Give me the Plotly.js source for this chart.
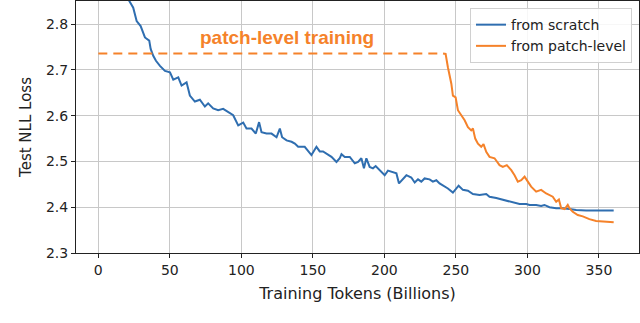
<!DOCTYPE html>
<html>
<head>
<meta charset="utf-8">
<script src="https://cdn.plot.ly/plotly-3.0.1.min.js"></script>
<style>
  html, body { margin: 0; padding: 0; background: #ffffff; }
  #chart { width: 640px; height: 323px; }
</style>
</head>
<body>
<div id="chart"></div>
<script>
// Test NLL loss vs training tokens (billions)
const scratchX = [19.3, 21.6, 24.4, 26.8, 29.6, 32.6, 35.6, 36.6, 38.4, 40.3, 43.1, 46.6, 50.1, 52.4, 55.9, 58.2, 61.7, 64.0, 67.5, 71.0,
  74.5, 76.8, 80.3, 83.8, 87.3, 90.8, 94.3, 97.8, 101.3, 103.6, 107.1, 110.1, 112.4, 114.1, 117.6, 121.1, 124.6, 126.9, 128.5, 131.6,
  135.1, 137.4, 139.7, 144.3, 149.0, 152.5, 154.8, 157.1, 159.5, 163.0, 166.5, 168.8, 170.0, 172.3, 175.8, 179.3, 181.6, 183.9, 185.7, 187.4,
  189.7, 192.0, 193.9, 196.7, 200.2, 202.5, 206.0, 208.4, 210.2, 212.6, 215.4, 218.8, 221.2, 223.5, 225.8, 228.1, 231.6, 233.9, 236.3, 238.6,
  240.9, 244.4, 247.9, 251.9, 254.9, 258.4, 261.9, 266.5, 271.2, 273.5, 278.2, 282.8, 286.3, 291.0, 294.5, 299.2, 301.5, 306.1, 309.6, 311.9,
  315.4, 320.1, 324.7, 329.4, 334.1, 341.0, 350.3, 360.3];
const scratchY = [2.872, 2.851, 2.836, 2.807, 2.796, 2.771, 2.764, 2.746, 2.731, 2.720, 2.709, 2.698, 2.695, 2.679, 2.684, 2.666, 2.673, 2.644, 2.631, 2.635,
  2.620, 2.627, 2.616, 2.612, 2.615, 2.608, 2.601, 2.579, 2.585, 2.572, 2.572, 2.561, 2.586, 2.564, 2.561, 2.561, 2.553, 2.572, 2.553, 2.546,
  2.543, 2.539, 2.532, 2.532, 2.514, 2.532, 2.522, 2.522, 2.517, 2.510, 2.499, 2.507, 2.516, 2.510, 2.510, 2.496, 2.499, 2.507, 2.485, 2.507,
  2.488, 2.485, 2.490, 2.481, 2.470, 2.480, 2.477, 2.474, 2.452, 2.461, 2.470, 2.465, 2.454, 2.461, 2.456, 2.463, 2.461, 2.456, 2.459, 2.452,
  2.448, 2.441, 2.432, 2.447, 2.438, 2.436, 2.429, 2.427, 2.429, 2.423, 2.420, 2.416, 2.414, 2.410, 2.407, 2.407, 2.405, 2.405, 2.403, 2.405,
  2.400, 2.398, 2.398, 2.396, 2.394, 2.393, 2.393, 2.393];

const patchX = [0, 241];
const patchY = [2.736, 2.736];

const fromPatchX = [241, 242.8, 244.4, 246.8, 247.9, 249.8, 251.4, 253.8, 256.1, 258.4, 260.7, 261.9, 263.5, 265.4, 267.7, 269.3, 271.2, 273.5, 277.0, 280.5,
  282.8, 285.6, 288.7, 291.0, 293.3, 295.7, 298.0, 300.3, 302.6, 306.1, 309.6, 313.1, 317.7, 320.1, 322.0, 323.6, 326.0, 328.2, 329.4, 331.7,
  335.2, 338.7, 343.3, 348.0, 353.8, 360.3];
const fromPatchY = [2.736, 2.735, 2.706, 2.670, 2.644, 2.640, 2.612, 2.601, 2.590, 2.575, 2.568, 2.572, 2.550, 2.539, 2.532, 2.538, 2.521, 2.510, 2.507, 2.492,
  2.488, 2.492, 2.481, 2.470, 2.456, 2.459, 2.467, 2.456, 2.445, 2.434, 2.438, 2.430, 2.423, 2.412, 2.417, 2.398, 2.396, 2.405, 2.398, 2.390,
  2.383, 2.380, 2.374, 2.370, 2.369, 2.367];

const xTicks = [0, 50, 100, 150, 200, 250, 300, 350];
const yTicks = [2.3, 2.4, 2.5, 2.6, 2.7, 2.8];

const blue = '#2f6eb0';
const orange = '#f5822a';
const font = 'DejaVu Sans, sans-serif';

const traces = [
  {
    x: scratchX, y: scratchY,
    type: 'scatter', mode: 'lines', name: 'from scratch',
    line: { color: blue, width: 2 }
  },
  {
    x: fromPatchX, y: fromPatchY,
    type: 'scatter', mode: 'lines', name: 'from patch-level',
    line: { color: orange, width: 2 }
  },
  {
    x: patchX, y: patchY,
    type: 'scatter', mode: 'lines', showlegend: false,
    line: { color: orange, width: 2, dash: '9px,6px' }
  }
];

const axisCommon = {
  showline: true, linecolor: '#222222', linewidth: 1, mirror: true,
  ticks: 'outside', ticklen: 4, tickcolor: '#222222',
  showgrid: true, gridcolor: '#c8c8c8', gridwidth: 1,
  zeroline: false,
  tickfont: { family: font, size: 14, color: '#222222' }
};

const layout = {
  width: 640, height: 323,
  margin: { l: 76, r: 1, t: 1, b: 70 },
  paper_bgcolor: '#ffffff', plot_bgcolor: '#ffffff',
  font: { family: font, color: '#222222' },
  showlegend: true,
  xaxis: Object.assign({}, axisCommon, {
    range: [-15.6, 378],
    tickvals: xTicks,
    title: { text: 'Training Tokens (Billions)', font: { family: font, size: 16 }, standoff: 11 }
  }),
  yaxis: Object.assign({}, axisCommon, {
    range: [2.3, 2.8507],
    tickvals: yTicks,
    ticktext: yTicks.map(v => v.toFixed(1)),
    title: { text: 'Test NLL Loss', font: { family: font, size: 15 }, standoff: 10 }
  }),
  legend: {
    x: 0.9876, y: 0.972, xanchor: 'right', yanchor: 'top',
    bgcolor: 'rgba(255,255,255,0.85)', bordercolor: '#d0d0d0', borderwidth: 1,
    font: { family: font, size: 14, color: '#222222' },
    tracegroupgap: 0
  },
  annotations: [{
    x: 132, y: 2.772, xref: 'x', yref: 'y',
    text: '<b>patch-level training</b>', showarrow: false,
    font: { family: 'Liberation Sans, Arial, sans-serif', size: 19, color: orange }
  }]
};

Plotly.newPlot('chart', traces, layout, { displayModeBar: false, responsive: false });
</script>
</body>
</html>
